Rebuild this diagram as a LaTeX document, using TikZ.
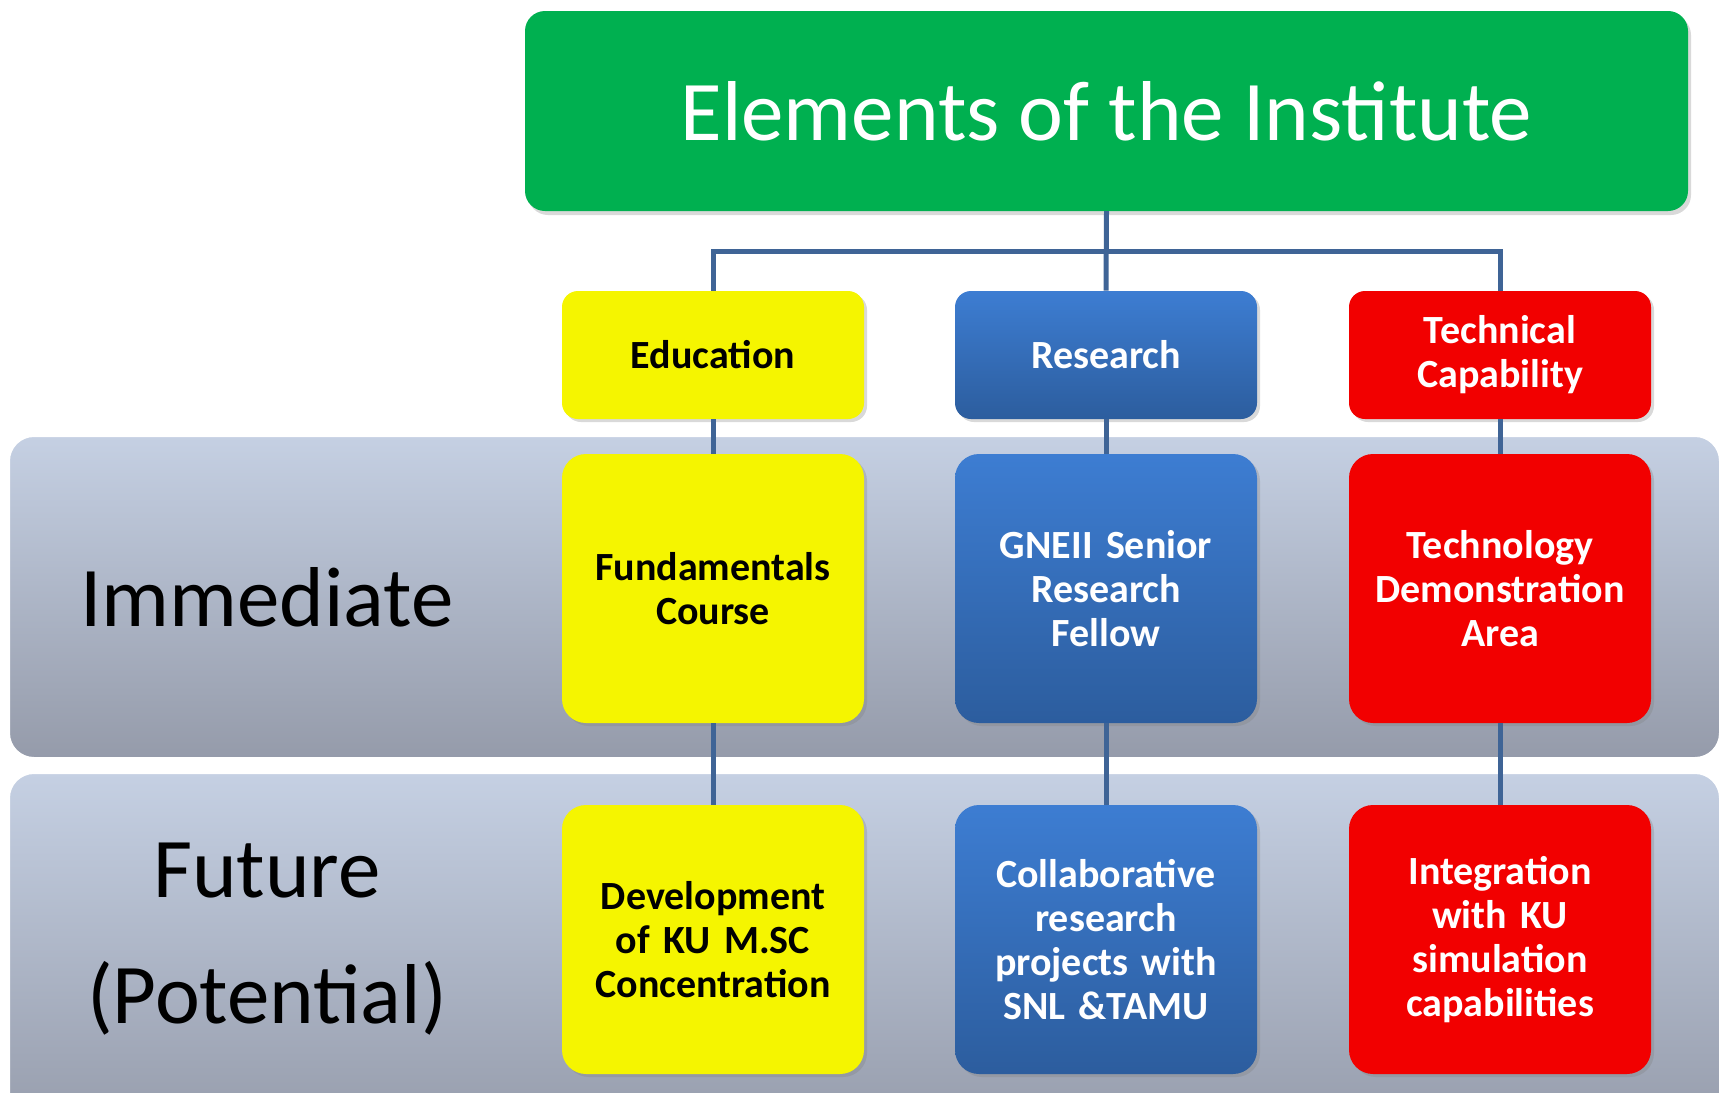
\documentclass[tikz,border=0pt]{standalone}
\usepackage{fontspec}
\setmainfont{Carlito}
\usetikzlibrary{shapes,positioning,calc,shadows}
\definecolor{titlegreen}{RGB}{0,176,80}
\definecolor{eduyellow}{RGB}{245,245,0}
\definecolor{restop}{RGB}{61,125,210}
\definecolor{resbottom}{RGB}{44,93,158}
\definecolor{techred}{RGB}{242,0,0}
\definecolor{bandtop}{RGB}{197,208,227}
\definecolor{bandbottom}{RGB}{149,155,170}
\definecolor{linkblue}{RGB}{63,100,150}

\begin{document}
\begin{tikzpicture}[
    x=0.5pt, y=-0.5pt,
    band/.style={draw=white, line width=1pt, top color=bandtop, bottom color=bandbottom, rounded corners=12.5pt},
    bandlabel/.style={font=\fontsize{42.5}{63}\selectfont, text=black, align=center},
    box/.style={text width=140pt, align=center, rounded corners=12pt, font=\fontsize{20}{22}\selectfont\bfseries, drop shadow={opacity=0.3, shadow xshift=1.5pt, shadow yshift=-1.5pt}},
    headbox/.style={box, minimum width=151pt, minimum height=64pt, rounded corners=8pt},
    cellbox/.style={box, minimum width=151pt, minimum height=134.5pt},
    edu/.style={fill=eduyellow, text=black},
    res/.style={top color=restop, bottom color=resbottom, text=white},
    tech/.style={fill=techred, text=white},
    link/.style={draw=linkblue, line width=2.5pt}
]
\useasboundingbox (0,0) rectangle (1723,1092);
\clip (0,0) rectangle (1723,1092);

% Bands
\draw[band] (9,436) rectangle (1720,758);
\draw[band] (9,773) rectangle (1720,1140);

% Band labels
\node[bandlabel] (immlabel) at (267,597) {Immediate};
\node[bandlabel] (futlabel) at (267,939) {Future\\(Potential)};

% Title
\node[fill=titlegreen, text=white, rounded corners=10pt, minimum width=581.5pt, minimum height=100pt,
      font=\fontsize{42.5}{50}\selectfont, drop shadow={opacity=0.3, shadow xshift=1.5pt, shadow yshift=-2pt}]
      (title) at (1106.5,111) {Elements of the Institute};

% Heads
\node[headbox,edu] (education) at (713,355) {Education};
\node[headbox,res] (research) at (1106,355) {Research};
\node[headbox,tech] (technical) at (1500,355) {Technical\\Capability};

% Immediate
\node[cellbox,edu] (fund) at (713,588.5) {Fundamentals\\Course};
\node[cellbox,res] (fellow) at (1106,588.5) {GNEII Senior\\Research\\Fellow};
\node[cellbox,tech] (demo) at (1500,588.5) {Technology\\Demonstration\\Area};

% Future
\node[cellbox,edu] (msc) at (713,939.5) {Development\\of KU M.SC\\Concentration};
\node[cellbox,res] (collab) at (1106,939.5) {Collaborative\\research\\projects with\\SNL \&TAMU};
\node[cellbox,tech] (simul) at (1500,939.5) {Integration\\with KU\\simulation\\capabilities};

% Connections
\draw[link] (title.south) -- (research.north);
\draw[link] (title.south) -- ++(0,40) -| (education.north);
\draw[link] (title.south) -- ++(0,40) -| (technical.north);

\draw[link] (education) -- (fund);
\draw[link] (research) -- (fellow);
\draw[link] (technical) -- (demo);

\draw[link] (fund) -- (msc);
\draw[link] (fellow) -- (collab);
\draw[link] (demo) -- (simul);

\end{tikzpicture}
\end{document}
